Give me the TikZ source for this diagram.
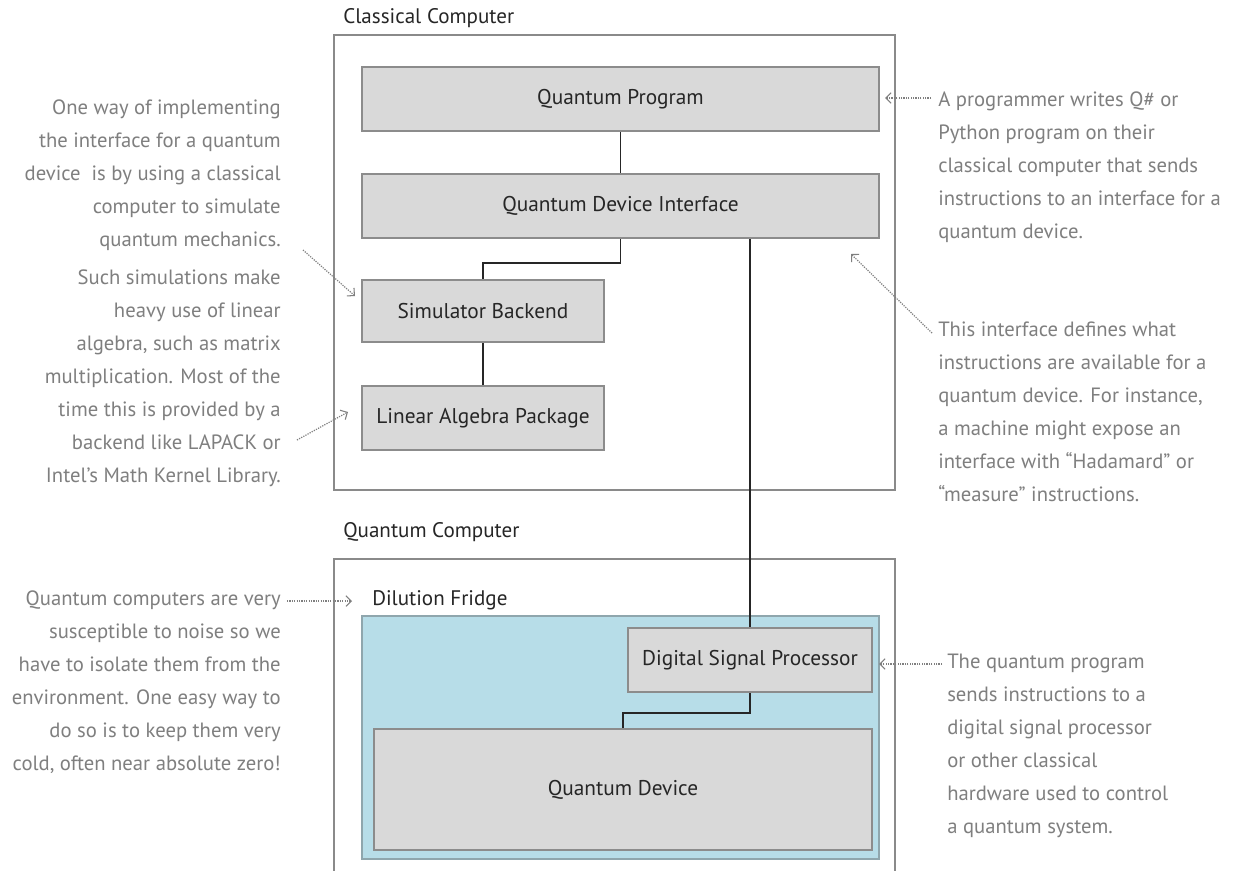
\documentclass[tikz,border=0pt]{standalone}
\usepackage{fontspec}
\setmainfont{PT Sans}
\usetikzlibrary{arrows.meta,fit}
\definecolor{boxfill}{HTML}{D9D9D9}
\definecolor{boxline}{HTML}{8C8C8C}
\definecolor{frameline}{HTML}{8A8A8A}
\definecolor{notetext}{HTML}{7F7F7F}
\definecolor{labeltext}{HTML}{262626}
\definecolor{fridgefill}{HTML}{B7DDE8}
\definecolor{fridgeline}{HTML}{8FA6AD}

\begin{document}
\begin{tikzpicture}[x=0.75pt,y=-0.75pt,
  component/.style={draw=boxline, line width=1.5pt, fill=boxfill, inner sep=0pt,
    label={[inner sep=0pt, font=\fontsize{16}{19}\selectfont, text=labeltext]center:#1}},
  wire/.style={draw=black!85, line width=1.1pt},
  container/.style={draw=frameline, line width=0.8pt},
  title/.style={anchor=west, inner sep=0pt, font=\fontsize{15.8}{19}\selectfont, text=labeltext},
  note/.style={inner sep=0pt, font=\fontsize{15.5}{24.75}\selectfont, text=notetext},
  pointer/.style={draw=notetext, line width=0.9pt, dash pattern=on 0.9pt off 0.9pt,
    -{Straight Barb[length=4pt,width=8pt,line width=0.8pt]}},
]
% canvas
\path[use as bounding box, fill=white] (0,0) rectangle (1236,871);

% ---------- classical computer ----------
\node[title] (cctitle) at (343,18) {Classical Computer};
\node[container, fit={(334,35) (895,490)}, inner sep=0pt] (cc) {};

\node[component=Quantum Program, fit={(362,67) (879,131)}] (qp) {};
\node[component=Quantum Device Interface, fit={(362,174) (879,238)}] (qdi) {};
\node[component=Simulator Backend, fit={(362,280) (604,342)}] (sb) {};
\node[component=Linear Algebra Package, fit={(362,386) (604,450)}] (lap) {};

% ---------- quantum computer ----------
\node[title] (qctitle) at (343,532) {Quantum Computer};
\draw[container] (334,871) |- (895,559) -- (895,871);

\node[title] (dftitle) at (372,600) {Dilution Fridge};
\node[draw=fridgeline, line width=1.2pt, fill=fridgefill, inner sep=0pt,
      fit={(362,616) (879,859)}] (fridge) {};
\node[component=Digital Signal Processor, fit={(628,628) (872,692)}] (dsp) {};
\node[component=Quantum Device, fit={(374,729) (872,850)}] (qd) {};

% ---------- wiring ----------
\draw[wire] (qp.south) -- (qdi.north);
\draw[wire] (qdi.south) -- ++(0,24) -| (sb.north);
\draw[wire] (sb.south) -- (lap.north);
\draw[wire] (dsp.north) -- (dsp.north |- qdi.south);
\draw[wire] (dsp.south) -- ++(0,20) -| (qd.north);

% ---------- notes, left ----------
\node[note, anchor=north east, align=right] (n1) at (281,100)
  {One way of implementing\\the interface for a quantum\\device~ is by using a classical\\computer to simulate\\quantum mechanics.};
\node[note, anchor=north east, align=right] (n2) at (281,269.5)
  {Such simulations make\\heavy use of linear\\algebra, such as matrix\\multiplication. Most of the\\time this is provided by a\\backend like LAPACK or\\Intel’s Math Kernel Library.};
\node[note, anchor=north east, align=right] (n3) at (281,591)
  {Quantum computers are very\\susceptible to noise so we\\have to isolate them from the\\environment. One easy way to\\do so is to keep them very\\cold, often near absolute zero!};

% ---------- notes, right ----------
\node[note, anchor=north west, align=left] (n4) at (938,92)
  {A programmer writes Q\# or\\Python program on their\\classical computer that sends\\instructions to an interface for a\\quantum device.};
\node[note, anchor=north west, align=left] (n5) at (938,321.5)
  {This interface defines what\\instructions are available for a\\quantum device. For instance,\\a machine might expose an\\interface with “Hadamard” or\\“measure” instructions.};
\node[note, anchor=north west, align=left] (n6) at (947,653.5)
  {The quantum program\\sends instructions to a\\digital signal processor\\or other classical\\hardware used to control\\a quantum system.};

% ---------- pointers ----------
\coordinate (a1s) at (931,98);  \coordinate (a1e) at (885,98);
\coordinate (a2s) at (303,250); \coordinate (a2e) at (355,296);
\coordinate (a3s) at (297,440); \coordinate (a3e) at (348,412);
\coordinate (a4s) at (932,333); \coordinate (a4e) at (851,254);
\coordinate (a5s) at (287,601); \coordinate (a5e) at (352,601);
\coordinate (a6s) at (942,664); \coordinate (a6e) at (879,664);
\draw[pointer] (a1s) -- (a1e);
\draw[pointer] (a2s) -- (a2e);
\draw[pointer] (a3s) -- (a3e);
\draw[pointer] (a4s) -- (a4e);
\draw[pointer] (a5s) -- (a5e);
\draw[pointer] (a6s) -- (a6e);
\end{tikzpicture}
\end{document}
